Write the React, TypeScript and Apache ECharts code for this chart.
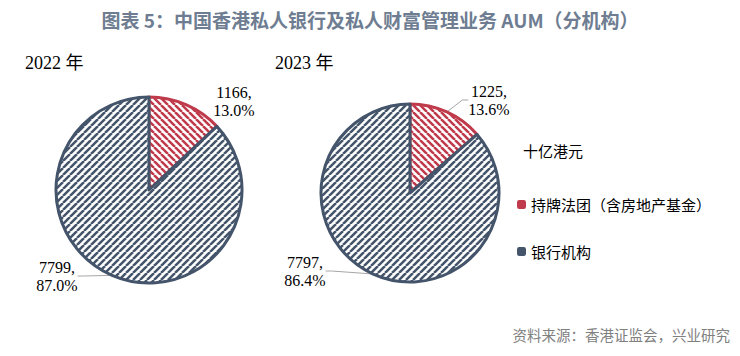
import React, { useEffect, useRef } from 'react';
import * as echarts from 'echarts';

const titleText = '图表 5：中国香港私人银行及私人财富管理业务 AUM（分机构）';
const sourceText = '资料来源：香港证监会，兴业研究';
const unitLabel = '十亿港元';
const categories = ['持牌法团（含房地产基金）', '银行机构'];
const yearLabels = ['2022 年', '2023 年'];
const values2022 = [1166, 7799];
const values2023 = [1225, 7797];

const RED = '#bf3a4b';
const NAVY = '#44546a';
const SERIF = '"Liberation Serif", "Times New Roman", "Noto Sans CJK SC", serif';
const CJK = '"Noto Sans CJK SC", sans-serif';

function makeHatch(color: string, dir: string) {
  const s = 7;
  const c = document.createElement('canvas');
  c.width = s;
  c.height = s;
  const ctx = c.getContext('2d') as CanvasRenderingContext2D;
  ctx.fillStyle = '#ffffff';
  ctx.fillRect(0, 0, s, s);
  ctx.strokeStyle = color;
  ctx.lineWidth = 2.5;
  ctx.beginPath();
  for (let k = -1; k <= 1; k++) {
    if (dir === '/') {
      ctx.moveTo(k * s, s);
      ctx.lineTo(k * s + s, 0);
    } else {
      ctx.moveTo(k * s, 0);
      ctx.lineTo(k * s + s, s);
    }
  }
  ctx.stroke();
  return c;
}

export default function App() {
  const ref = useRef<HTMLDivElement>(null);
  useEffect(() => {
    if (!ref.current) return;
    const chart = echarts.init(ref.current, undefined, { renderer: 'svg' });
    const redFill = { image: makeHatch(RED, '\\'), repeat: 'repeat' };
    const navyFill = { image: makeHatch(NAVY, '/'), repeat: 'repeat' };
    const borderColors = [RED, NAVY];
    const fills = [redFill, navyFill];

    const labelPos = [
      [[234, 101], [57, 276]],
      [[489, 100], [305, 271]],
    ];
    const showLine = [
      [false, true],
      [true, true],
    ];

    const makeData = (vals: number[], idx: number) =>
      vals.map((v, i) => ({
        name: categories[i],
        value: v,
        itemStyle: { color: fills[i], borderColor: borderColors[i], borderWidth: 3 },
        labelLine: { show: showLine[idx][i] },
      }));

    const makeSeries = (vals: number[], idx: number, center: number[], radius: number) => ({
      type: 'pie',
      center,
      radius,
      startAngle: 90,
      clockwise: true,
      silent: true,
      emphasis: { disabled: true },
      data: makeData(vals, idx),
      label: {
        show: true,
        position: 'outside',
        formatter: (p: any) => `${p.value},\n${p.percent.toFixed(1)}%`,
        fontFamily: SERIF,
        fontSize: 16,
        lineHeight: 18,
        color: '#000',
        align: 'center',
      },
      labelLine: { show: true, length: 8, length2: 6, lineStyle: { color: '#a6a6a6', width: 1 } },
      labelLayout: (params: any) => {
        const pos = labelPos[idx][params.dataIndex];
        return { x: pos[0], y: pos[1], align: 'center', verticalAlign: 'middle' };
      },
    });

    chart.setOption({
      animation: false,
      graphic: [
        {
          type: 'text',
          left: 'center',
          top: 10,
          style: { text: titleText, font: `bold 19px ${CJK}`, fill: '#6e7d91' },
        },
        {
          type: 'text',
          x: 25,
          y: 63,
          style: { text: yearLabels[0], font: `18px ${SERIF}`, fill: '#000', verticalAlign: 'middle' },
        },
        {
          type: 'text',
          x: 275,
          y: 63,
          style: { text: yearLabels[1], font: `18px ${SERIF}`, fill: '#000', verticalAlign: 'middle' },
        },
        {
          type: 'text',
          x: 523,
          y: 150,
          style: { text: unitLabel, font: `15px ${CJK}`, fill: '#000', verticalAlign: 'middle' },
        },
        {
          type: 'text',
          right: 10,
          y: 327,
          style: { text: sourceText, font: `14.5px ${CJK}`, fill: '#808080' },
        },
      ],
      legend: {
        orient: 'vertical',
        left: 512,
        top: 192,
        itemGap: 32,
        itemWidth: 9,
        itemHeight: 9,
        icon: 'roundRect',
        selectedMode: false,
        textStyle: { fontFamily: CJK, fontSize: 15, color: '#000' },
        data: categories.map((c, i) => ({ name: c, itemStyle: { color: borderColors[i], borderWidth: 0 } })),
      },
      series: [
        makeSeries(values2022, 0, [149, 190], 93),
        makeSeries(values2023, 1, [410, 193], 89),
      ],
    });
    return () => chart.dispose();
  }, []);
  return <div ref={ref} style={{ position: 'absolute', left: 0, top: 0, width: 740, height: 356 }} />;
}
